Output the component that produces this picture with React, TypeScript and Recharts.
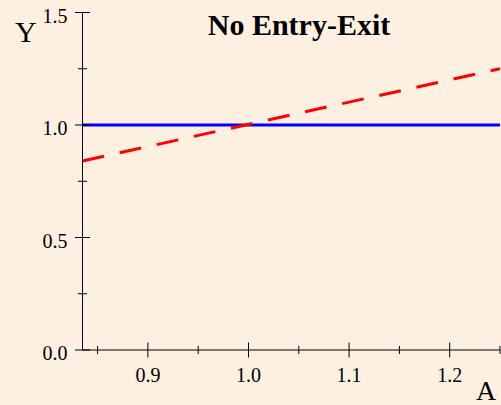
import { LineChart, Line, XAxis, YAxis } from "recharts";

// A values sampled along the plot range
const aValues = [0.835, 1.25];
// Y for the solid blue series (no entry-exit)
const flatValues = [1.0, 1.0];
// Y for the dashed red series
const dashedValues = [0.84, 1.25];

const xTicks = [0.85, 0.9, 0.95, 1.0, 1.05, 1.1, 1.15, 1.2, 1.25];
const yTicks = [0, 0.25, 0.5, 0.75, 1.0, 1.25, 1.5];

const data = aValues.map((a, i) => ({ a, flat: flatValues[i], dashed: dashedValues[i] }));

const serif = "'Liberation Serif', 'Times New Roman', serif";

const isMajor = (v: number, step: number) => Math.abs(v / step - Math.round(v / step)) < 1e-6;

const XTick = (props: any) => {
  const { x, y, payload } = props;
  const major = isMajor(payload.value, 0.1);
  const len = major ? 7.5 : 4;
  return (
    <g>
      <line x1={x} x2={x} y1={y - len} y2={y + len} stroke="#000" strokeWidth={1} />
      {major && (
        <text x={x} y={y + 32} textAnchor="middle" fontFamily={serif} fontSize={20} fill="#000">
          {payload.value.toFixed(1)}
        </text>
      )}
    </g>
  );
};

const YTick = (props: any) => {
  const { x, y, payload } = props;
  const major = isMajor(payload.value, 0.5);
  const len = major ? 7.5 : 4.5;
  return (
    <g>
      <line x1={x - len} x2={x + len} y1={y} y2={y} stroke="#000" strokeWidth={1} />
      {major && (
        <text x={x - 15} y={y + 10} textAnchor="end" fontFamily={serif} fontSize={20} fill="#000">
          {payload.value.toFixed(1)}
        </text>
      )}
    </g>
  );
};

export default function App() {
  return (
    <div style={{ position: "fixed", left: 0, top: 0, width: 501, height: 405, background: "#fdf0e1" }}>
      <LineChart width={501} height={405} data={data} margin={{ top: 12.5, right: 1, bottom: 0, left: 0 }}>
        <XAxis
          type="number"
          dataKey="a"
          domain={[0.835, 1.25]}
          allowDataOverflow
          ticks={xTicks}
          interval={0}
          height={55}
          tickSize={0}
          tickMargin={0}
          tickLine={false}
          axisLine={{ stroke: "#000", strokeWidth: 1 }}
          tick={<XTick />}
        />
        <YAxis
          type="number"
          domain={[0, 1.5]}
          allowDataOverflow
          ticks={yTicks}
          interval={0}
          width={82.5}
          tickSize={0}
          tickMargin={0}
          tickLine={false}
          axisLine={{ stroke: "#000", strokeWidth: 1 }}
          tick={<YTick />}
        />
        <Line dataKey="flat" stroke="#0000ff" strokeWidth={3} dot={false} isAnimationActive={false} />
        <Line
          dataKey="dashed"
          stroke="#ff0000"
          strokeWidth={3}
          strokeDasharray="22 16"
          dot={false}
          isAnimationActive={false}
        />
      </LineChart>
      <svg width={501} height={405} style={{ position: "absolute", left: 0, top: 0, pointerEvents: "none" }}>
        <text x={299} y={35} textAnchor="middle" fontFamily={serif} fontWeight="bold" fontSize={30} fill="#000">
          No Entry-Exit
        </text>
        <text x={15} y={41.5} fontFamily={serif} fontSize={30} fill="#000">
          Y
        </text>
        <text x={476} y={400} fontFamily={serif} fontSize={28} fill="#000">
          A
        </text>
      </svg>
    </div>
  );
}
